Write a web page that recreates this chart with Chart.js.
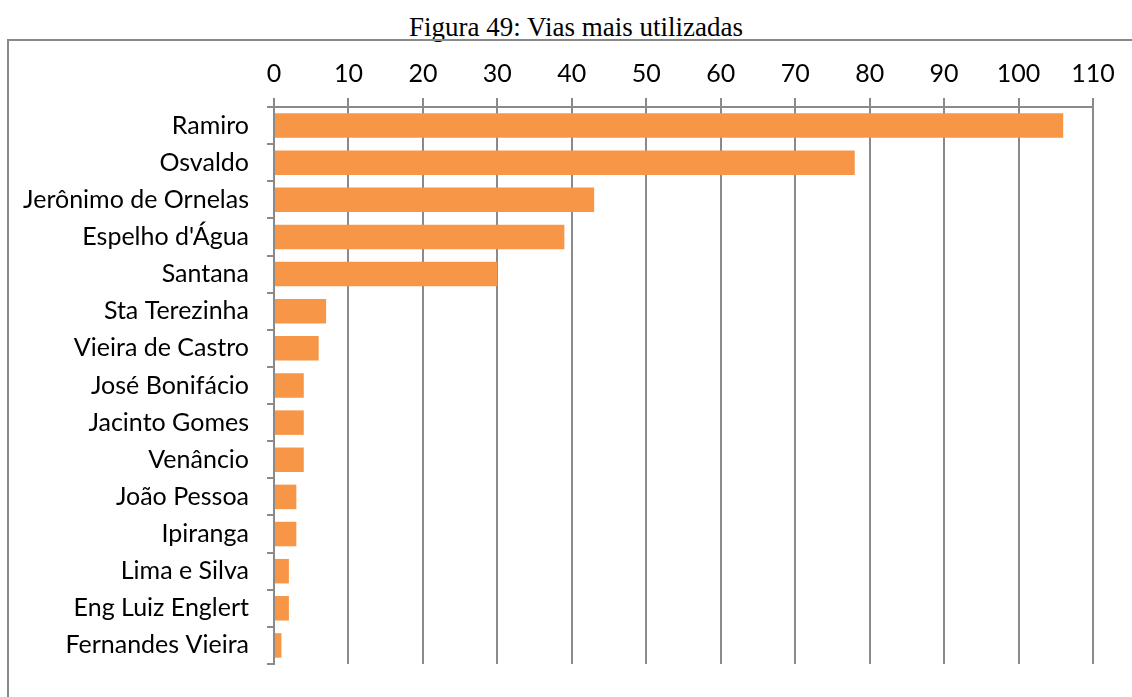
<!DOCTYPE html>
<html>
<head>
<meta charset="utf-8">
<script src="https://cdn.jsdelivr.net/npm/chart.js@4.4.1/dist/chart.umd.min.js"></script>
<style>
  html, body { margin: 0; padding: 0; background: #fff; overflow: hidden; }
  body { width: 1132px; height: 697px; position: relative; }
  #title { position: absolute; left: 0; width: 1152px; top: 12px; text-align: center;
           font-family: "Liberation Serif", "Times New Roman", serif; font-size: 27px; color: #000; line-height: 30px; }
  #frame { position: absolute; left: 7px; top: 39px; width: 2000px; height: 2000px;
           border-top: 2px solid #8a8a8a; border-left: 2px solid #8a8a8a; }
  #wrap { position: absolute; left: 0; top: 0; width: 1132px; height: 697px; }
</style>
</head>
<body>
<div id="title">Figura 49: Vias mais utilizadas</div>
<div id="frame"></div>
<div id="wrap"><canvas id="c" width="1132" height="697"></canvas></div>
<script>
const categories = ["Ramiro", "Osvaldo", "Jerônimo de Ornelas", "Espelho d'Água", "Santana",
  "Sta Terezinha", "Vieira de Castro", "José Bonifácio", "Jacinto Gomes", "Venâncio",
  "João Pessoa", "Ipiranga", "Lima e Silva", "Eng Luiz Englert", "Fernandes Vieira"];
const values = [106, 78, 43, 39, 30, 7, 6, 4, 4, 4, 3, 3, 2, 2, 1];
const axisMin = 0, axisMax = 110, axisStep = 10;

const gridColor = '#8a8a8a';
const labelFont = { family: 'Lato, "Open Sans", sans-serif', size: 25 };

new Chart(document.getElementById('c'), {
  type: 'bar',
  data: {
    labels: categories,
    datasets: [{
      data: values,
      backgroundColor: '#F79646',
      borderWidth: 0,
      barPercentage: 0.66,
      categoryPercentage: 1.0
    }]
  },
  options: {
    indexAxis: 'y',
    responsive: false,
    animation: false,
    devicePixelRatio: 1,
    layout: { padding: { left: 0, top: 0, right: 39, bottom: 20 } },
    plugins: { legend: { display: false }, title: { display: false }, tooltip: { enabled: false } },
    scales: {
      x: {
        position: 'top',
        min: axisMin, max: axisMax,
        afterFit: s => { s.height = 107; },
        ticks: { stepSize: axisStep, color: '#000', font: labelFont, padding: 9, maxRotation: 0 },
        grid: { color: gridColor, lineWidth: 2, tickLength: 9, drawTicks: true },
        border: { color: gridColor, width: 2 }
      },
      y: {
        afterFit: s => { s.width = 274; },
        ticks: { color: '#000', font: labelFont, padding: 18, autoSkip: false },
        grid: { color: gridColor, lineWidth: 2, tickLength: 7, drawOnChartArea: false, offset: true },
        border: { color: gridColor, width: 2 }
      }
    }
  }
});
</script>
</body>
</html>
